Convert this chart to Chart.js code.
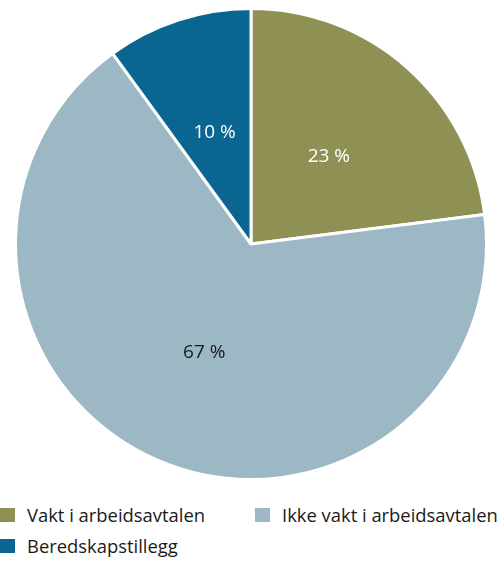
<!DOCTYPE html>
<html>
<head>
<meta charset="utf-8">
<script src="https://cdn.jsdelivr.net/npm/chart.js@4/dist/chart.umd.min.js"></script>
<style>
  html, body { margin: 0; padding: 0; background: #fff; }
  body { width: 500px; height: 565px; position: relative; overflow: hidden; font-family: "Open Sans", sans-serif; }
  #wrap { position: absolute; left: 14px; top: 7px; width: 474px; height: 474px; }
  #legend { position: absolute; left: 0; top: 502px; width: 500px; }
  .item { position: absolute; display: flex; align-items: center; font-size: 18.4px; color: #1a1a1a; white-space: nowrap; }
  .box { width: 15px; height: 14px; margin-right: 12px; }
</style>
</head>
<body>
<div id="wrap"><canvas id="c"></canvas></div>
<div id="legend"></div>
<script>
const categories = ["Vakt i arbeidsavtalen", "Ikke vakt i arbeidsavtalen", "Beredskapstillegg"];
const values = [23, 67, 10];
const colors = ["#8f9053", "#9bb8c4", "#0b6591"];
const labelColors = ["#ffffff", "#1a1a1a", "#ffffff"];

const sliceLabels = {
  id: 'sliceLabels',
  afterDatasetsDraw(chart) {
    const ctx = chart.ctx;
    const meta = chart.getDatasetMeta(0);
    ctx.save();
    ctx.font = '19px "Open Sans", sans-serif';
    ctx.textAlign = 'center';
    ctx.textBaseline = 'middle';
    meta.data.forEach((arc, i) => {
      const p = arc.tooltipPosition();
      ctx.fillStyle = labelColors[i];
      ctx.fillText(values[i] + ' %', p.x, p.y + 1);
    });
    ctx.restore();
  }
};

const chart = new Chart(document.getElementById('c'), {
  type: 'pie',
  data: {
    labels: categories,
    datasets: [{
      data: values,
      backgroundColor: colors,
      borderColor: '#ffffff',
      borderWidth: 3
    }]
  },
  options: {
    responsive: true,
    maintainAspectRatio: false,
    animation: false,
    layout: { padding: 0 },
    plugins: { legend: { display: false }, tooltip: { enabled: false } }
  },
  plugins: [sliceLabels]
});

// HTML legend built from the chart's own legend labels
const pos = [[0, 0], [255, 0], [0, 31]];
const legendEl = document.getElementById('legend');
const items = chart.options.plugins.legend.labels.generateLabels(chart);
items.forEach((it, i) => {
  const d = document.createElement('div');
  d.className = 'item';
  d.style.left = pos[i][0] + 'px';
  d.style.top = pos[i][1] + 'px';
  const b = document.createElement('span');
  b.className = 'box';
  b.style.background = it.fillStyle;
  d.appendChild(b);
  d.appendChild(document.createTextNode(it.text));
  legendEl.appendChild(d);
});
</script>
</body>
</html>
